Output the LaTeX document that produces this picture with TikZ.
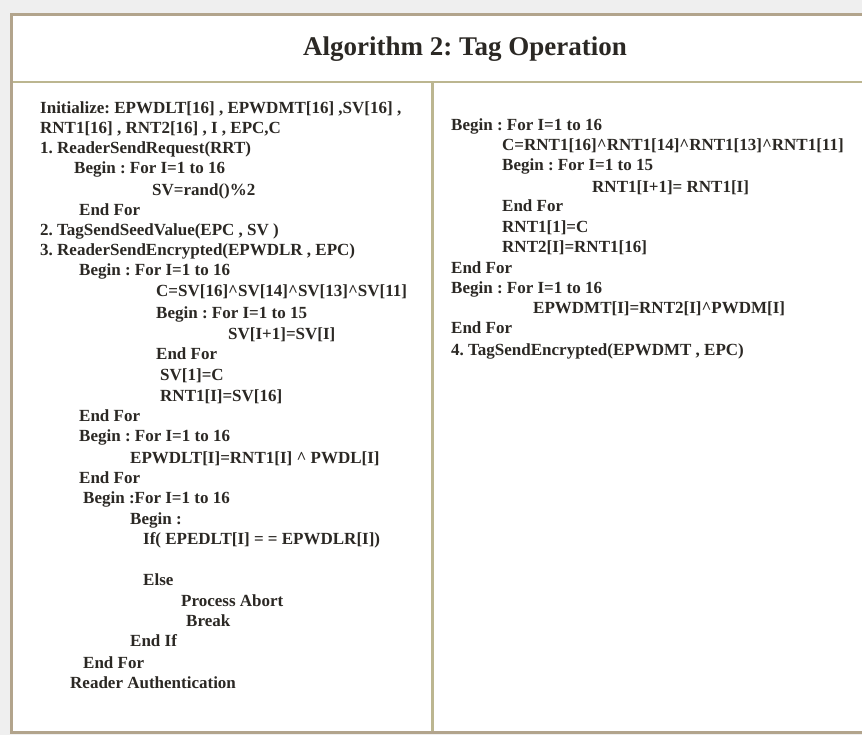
\documentclass[tikz,border=0pt]{standalone}
\usepackage{fontspec}
\setmainfont{Liberation Serif}
\frenchspacing
\definecolor{bgray}{HTML}{EFEFEF}
\definecolor{frametan}{HTML}{B2A48C}
\definecolor{sepolive}{HTML}{BCB690}
\definecolor{txt}{HTML}{2B2824}
\begin{document}
\begin{tikzpicture}[x=1pt,y=-1pt,
  ln/.style={anchor=base west,inner sep=0pt,text=txt,font=\fontsize{17}{20}\selectfont\bfseries},
  ttl/.style={anchor=base,inner sep=0pt,text=txt,font=\fontsize{27}{30}\selectfont\bfseries}]
\useasboundingbox (0,0) rectangle (862,735);
\fill[bgray] (0,0) rectangle (862,735);
\fill[white] (11,14) rectangle (862,733);
% frame
\draw[frametan,line width=3pt] (862,14.5) -- (11.5,14.5) -- (11.5,732.5) -- (862,732.5);
\draw[sepolive,line width=2.5pt] (13,82) -- (862,82);
\draw[sepolive,line width=3pt] (432,83) -- (432,731);
% title
\node[ttl] (title) at (465,56) {Algorithm 2: Tag Operation};
% left column
\node[ln] (l0) at (40,114) {Initialize: EPWDLT[16] , EPWDMT[16] ,SV[16] ,};
\node[ln] (l1) at (40,134) {RNT1[16] , RNT2[16] ,  I ,  EPC,C};
\node[ln] (l2) at (40,154) {1. ReaderSendRequest(RRT)};
\node[ln] (l3) at (74,174) {Begin : For I=1 to 16};
\node[ln] (l4) at (152,196) {SV=rand()\%2};
\node[ln] (l5) at (79,216) {End For};
\node[ln] (l6) at (40,236) {2. TagSendSeedValue(EPC , SV )};
\node[ln] (l7) at (40,256) {3. ReaderSendEncrypted(EPWDLR , EPC)};
\node[ln] (l8) at (79,276) {Begin : For I=1 to 16};
\node[ln] (l9) at (156,297) {C=SV[16]\textasciicircum SV[14]\textasciicircum SV[13]\textasciicircum SV[11]};
\node[ln] (l10) at (156,319) {Begin : For I=1 to 15};
\node[ln] (l11) at (228,339) {SV[I+1]=SV[I]};
\node[ln] (l12) at (156,359) {End For};
\node[ln] (l13) at (160,380) {SV[1]=C};
\node[ln] (l14) at (160,401) {RNT1[I]=SV[16]};
\node[ln] (l15) at (79,421) {End For};
\node[ln] (l16) at (79,441) {Begin : For I=1 to 16};
\node[ln] (l17) at (130,463) {EPWDLT[I]=RNT1[I] \textasciicircum{} PWDL[I]};
\node[ln] (l18) at (79,483) {End For};
\node[ln] (l19) at (83,503) {Begin :For I=1 to 16};
\node[ln] (l20) at (130,524) {Begin :};
\node[ln] (l21) at (143,544) {If( EPEDLT[I] = = EPWDLR[I])};
\node[ln] (l23) at (143,585) {Else};
\node[ln] (l24) at (181,606) {Process Abort};
\node[ln] (l25) at (186,626) {Break};
\node[ln] (l26) at (130,646) {End If};
\node[ln] (l27) at (83,668) {End For};
\node[ln] (l28) at (70,688) {Reader Authentication};
% right column
\node[ln] (r0) at (451,131) {Begin : For I=1 to 16};
\node[ln] (r1) at (502,151) {C=RNT1[16]\textasciicircum RNT1[14]\textasciicircum RNT1[13]\textasciicircum RNT1[11]};
\node[ln] (r2) at (502,171) {Begin : For I=1 to 15};
\node[ln] (r3) at (592,193) {RNT1[I+1]= RNT1[I]};
\node[ln] (r4) at (502,212) {End For};
\node[ln] (r5) at (502,233) {RNT1[1]=C};
\node[ln] (r6) at (502,253) {RNT2[I]=RNT1[16]};
\node[ln] (r7) at (451,274) {End For};
\node[ln] (r8) at (451,294) {Begin : For I=1 to 16};
\node[ln] (r9) at (533,314) {EPWDMT[I]=RNT2[I]\textasciicircum PWDM[I]};
\node[ln] (r10) at (451,334) {End For};
\node[ln] (r11) at (451,355) {4. TagSendEncrypted(EPWDMT , EPC)};
\end{tikzpicture}
\end{document}
